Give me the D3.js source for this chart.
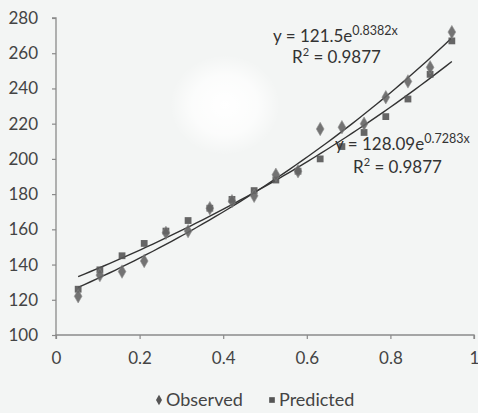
<!DOCTYPE html>
<html><head><meta charset="utf-8">
<script src="https://cdn.jsdelivr.net/npm/d3@7/dist/d3.min.js"></script>
<style>
html,body{margin:0;padding:0;background:#f3f5f4;}
svg{display:block;font-family:Lato,"Open Sans",sans-serif;}
</style></head><body>
<svg id="c" width="478" height="413"></svg>
<script>
// ---- data ----
const xValues   = [0.053,0.105,0.158,0.211,0.263,0.316,0.368,0.421,0.474,0.526,0.579,0.632,0.684,0.737,0.789,0.842,0.895,0.947];
const observed  = [122,134,136,142,158,159,172,176,179,191,193,217,218,220,235,244,252,272];
const predicted = [126,137,145,152,159,165,172,177,182,188,193,200,207,215,224,234,248,267];
const xTicks = [0,0.2,0.4,0.6,0.8,1];
const yTicks = [100,120,140,160,180,200,220,240,260,280];
const fitObserved  = {a:121.5,  b:0.8382, r2:"0.9877"};
const fitPredicted = {a:128.09, b:0.7283, r2:"0.9877"};
const seriesNames = ["Observed","Predicted"];

// ---- layout ----
const svg = d3.select("#c");
const X0=56, X1=474, Y0=335, Y1=18;
const x = d3.scaleLinear().domain([0,1]).range([X0,X1]);
const y = d3.scaleLinear().domain([100,280]).range([Y0,Y1]);
const textCol="#444", axisCol="#8a8a8a", markCol="#555";

// soft white blob like the scan
const defs=svg.append("defs");
const rg=defs.append("radialGradient").attr("id","blob");
rg.append("stop").attr("offset","0").attr("stop-color","#ffffff").attr("stop-opacity",1);
rg.append("stop").attr("offset","0.6").attr("stop-color","#ffffff").attr("stop-opacity",0.7);
rg.append("stop").attr("offset","1").attr("stop-color","#ffffff").attr("stop-opacity",0);
svg.append("ellipse").attr("cx",225).attr("cy",105).attr("rx",55).attr("ry",50).attr("fill","url(#blob)");

// axes
const yAxis = d3.axisLeft(y).tickValues(yTicks).tickSize(4).tickPadding(14).tickFormat(d3.format("d"));
const xAxis = d3.axisBottom(x).tickValues(xTicks).tickSize(4).tickPadding(13).tickFormat(d=>d===0||d===1?d3.format("d")(d):d3.format(".1f")(d));
const gy=svg.append("g").attr("transform",`translate(${X0},0)`).call(yAxis);
const gx=svg.append("g").attr("transform",`translate(0,${Y0})`).call(xAxis);
[gx,gy].forEach(g=>{
  g.select(".domain").attr("stroke",axisCol).attr("stroke-width",1.3);
  g.selectAll(".tick line").attr("stroke",axisCol).attr("stroke-width",1.2);
  g.selectAll(".tick text").attr("fill",textCol).style("font-size","17px").style("font-family","Lato,'Open Sans',sans-serif");
});
gy.select(".domain").attr("d",`M-4,${Y1}H0V${Y0}`);
gx.select(".domain").attr("d",`M${X0},4V0H${X1}V4`);

// trendlines
const line=d3.line().x(d=>x(d[0])).y(d=>y(d[1]));
function fitPts(f){
  const lo=d3.min(xValues), hi=d3.max(xValues), n=60, pts=[];
  for(let i=0;i<=n;i++){const t=lo+(hi-lo)*i/n; pts.push([t,f.a*Math.exp(f.b*t)]);}
  return pts;
}
[fitObserved,fitPredicted].forEach(f=>{
  svg.append("path").attr("d",line(fitPts(f))).attr("fill","none").attr("stroke","#333").attr("stroke-width",1.4);
});

// markers
const diamond=d3.symbol().type(d3.symbolDiamond).size(52);
const square=d3.symbol().type(d3.symbolSquare).size(46);
svg.append("g").selectAll("path").data(xValues.map((v,i)=>[v,predicted[i]])).join("path")
  .attr("d",square).attr("transform",d=>`translate(${x(d[0])},${y(d[1])})`).attr("fill",markCol).attr("opacity",0.9);
svg.append("g").selectAll("path").data(xValues.map((v,i)=>[v,observed[i]])).join("path")
  .attr("d",diamond).attr("transform",d=>`translate(${x(d[0])},${y(d[1])})`).attr("fill","#666").attr("stroke","#888").attr("stroke-width",0.6).attr("opacity",0.9);

// equation labels
function eq(f,xp,yp,rx,ry){
  const t=svg.append("text").attr("x",xp).attr("y",yp).attr("fill","#333").style("font-size","17px");
  t.append("tspan").text(`y = ${f.a}e`);
  t.append("tspan").attr("dy",-7).style("font-size","12.5px").text(`${f.b}x`);
  const r=svg.append("text").attr("x",rx).attr("y",ry).attr("fill","#333").style("font-size","17px");
  r.append("tspan").text("R");
  r.append("tspan").attr("dy",-7).style("font-size","11px").text("2");
  r.append("tspan").attr("dy",7).text(` = ${f.r2}`);
}
eq(fitObserved,273,42,292,63);
eq(fitPredicted,335,150,353,173);

// legend
const lg=svg.append("g");
const legendItems=[{name:seriesNames[0],sym:diamond,x:159},{name:seriesNames[1],sym:square,x:272}];
legendItems.forEach(it=>{
  lg.append("path").attr("d",it.sym.size(32)()).attr("transform",`translate(${it.x},${400})`).attr("fill",markCol);
  lg.append("text").attr("x",it.x+7).attr("y",406).attr("fill",textCol).style("font-size","18px").text(it.name);
});
</script>
</body></html>
